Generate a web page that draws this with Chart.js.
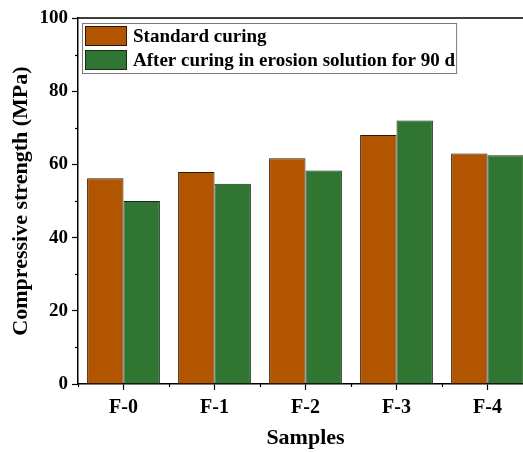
<!DOCTYPE html>
<html>
<head>
<meta charset="utf-8">
<script src="https://cdn.jsdelivr.net/npm/chart.js@4/dist/chart.umd.min.js"></script>
<style>
  html, body { margin: 0; padding: 0; background: #fff; overflow: hidden; }
  #wrap { position: relative; width: 533px; height: 452px; }
</style>
</head>
<body>
<div id="wrap"><canvas id="c"></canvas></div>
<script>
// Compressive strength of samples F-0 … F-4 (MPa)
const samples = ['F-0', 'F-1', 'F-2', 'F-3', 'F-4'];
const standardCuring = [56.2, 57.9, 61.7, 68.0, 63.0];
const erosionCuring = [50.0, 54.7, 58.3, 72.0, 62.5];
const seriesNames = ['Standard curing', 'After curing in erosion solution for 90 d'];
const yTicks = [0, 20, 40, 60, 80, 100];

const FONT = '"Liberation Serif", "Times New Roman", serif';
Chart.defaults.font.family = FONT;
Chart.defaults.font.weight = 'bold';
Chart.defaults.color = '#000';

// Minor tick marks, top frame line and boxed legend
const decorations = {
  id: 'decorations',
  afterDraw(chart) {
    const ctx = chart.ctx;
    const { x, y } = chart.scales;
    const area = chart.chartArea;
    ctx.save();
    ctx.strokeStyle = '#000';
    ctx.lineWidth = 1.2;
    // y minor ticks halfway between labelled ticks
    for (let i = 0; i + 1 < y.ticks.length; i++) {
      const v = (y.ticks[i].value + y.ticks[i + 1].value) / 2;
      const py = Math.round(y.getPixelForValue(v)) + 0.5;
      ctx.beginPath();
      ctx.moveTo(area.left - 3, py);
      ctx.lineTo(area.left, py);
      ctx.stroke();
    }
    // x minor ticks on category boundaries
    for (let i = 0; i <= samples.length; i++) {
      const px = Math.round(x.getPixelForValue(i - 0.5)) + 0.5;
      ctx.beginPath();
      ctx.moveTo(px, area.bottom);
      ctx.lineTo(px, area.bottom + 3);
      ctx.stroke();
    }
    // top and right frame
    ctx.lineWidth = 1.5;
    ctx.beginPath();
    ctx.moveTo(area.left, area.top);
    ctx.lineTo(area.right, area.top);
    ctx.lineTo(area.right, area.bottom);
    ctx.stroke();

    // legend
    const ds = chart.data.datasets;
    const bx = area.left + 4, by = area.top + 5;
    const sw = 42, sh = 20, rowH = 24;
    ctx.font = 'bold 19px ' + FONT;
    let maxW = 0;
    ds.forEach(d => { maxW = Math.max(maxW, ctx.measureText(d.label).width); });
    const boxW = 2 + sw + 6 + maxW + 2;
    const boxH = 2 + rowH * ds.length;
    ctx.fillStyle = '#fff';
    ctx.fillRect(bx, by, boxW, boxH);
    ctx.strokeStyle = '#7a7a7a';
    ctx.lineWidth = 1;
    ctx.strokeRect(bx + 0.5, by + 0.5, boxW, boxH);
    ds.forEach((d, i) => {
      const sy = by + 3 + i * rowH;
      ctx.fillStyle = d.backgroundColor;
      ctx.fillRect(bx + 3, sy, sw, sh);
      ctx.strokeStyle = d.borderColor;
      ctx.strokeRect(bx + 3.5, sy + 0.5, sw - 1, sh - 1);
      ctx.fillStyle = '#000';
      ctx.textBaseline = 'middle';
      ctx.textAlign = 'left';
      ctx.fillText(d.label, bx + 3 + sw + 6, sy + sh / 2 + 1);
    });
    ctx.restore();
  }
};

new Chart(document.getElementById('c'), {
  type: 'bar',
  data: {
    labels: samples,
    datasets: [
      {
        label: seriesNames[0],
        data: standardCuring,
        backgroundColor: '#B25500',
        borderColor: '#2e1600',
        borderWidth: 1,
        inflateAmount: 0,
        categoryPercentage: 0.8,
        barPercentage: 1.0
      },
      {
        label: seriesNames[1],
        data: erosionCuring,
        backgroundColor: '#307532',
        borderColor: '#132a13',
        borderWidth: 1,
        inflateAmount: 0,
        categoryPercentage: 0.8,
        barPercentage: 1.0
      }
    ]
  },
  options: {
    responsive: true,
    maintainAspectRatio: false,
    animation: false,
    layout: { padding: { top: 18, right: 0, bottom: 0, left: 0 } },
    plugins: {
      legend: { display: false },
      tooltip: { enabled: false }
    },
    scales: {
      x: {
        offset: true,
        grid: {
          offset: false,
          drawOnChartArea: false,
          drawTicks: true,
          tickLength: 6,
          tickColor: '#000',
          tickWidth: 1.2
        },
        border: { display: true, color: '#000', width: 1.5 },
        ticks: { font: { size: 20, weight: 'bold' }, padding: 6, maxRotation: 0 },
        title: {
          display: true,
          text: 'Samples',
          font: { size: 22, weight: 'bold' },
          padding: { top: 0, bottom: 0 }
        },
        afterFit(scale) {
          scale.height = 68;
          scale.paddingLeft = 0;
          scale.paddingRight = 0;
        }
      },
      y: {
        min: 0,
        max: 100,
        afterBuildTicks(scale) {
          scale.ticks = yTicks.map(v => ({ value: v }));
        },
        grid: {
          drawOnChartArea: false,
          drawTicks: true,
          tickLength: 6,
          tickColor: '#000',
          tickWidth: 1.2
        },
        border: { display: true, color: '#000', width: 1.5 },
        ticks: { font: { size: 19, weight: 'bold' }, padding: 4 },
        title: {
          display: true,
          text: 'Compressive strength (MPa)',
          font: { size: 22, weight: 'bold' },
          padding: { top: 8, bottom: 0 }
        },
        afterFit(scale) {
          scale.width = 78;
          scale.paddingTop = 0;
          scale.paddingBottom = 0;
        }
      }
    }
  },
  plugins: [decorations]
});
</script>
</body>
</html>
